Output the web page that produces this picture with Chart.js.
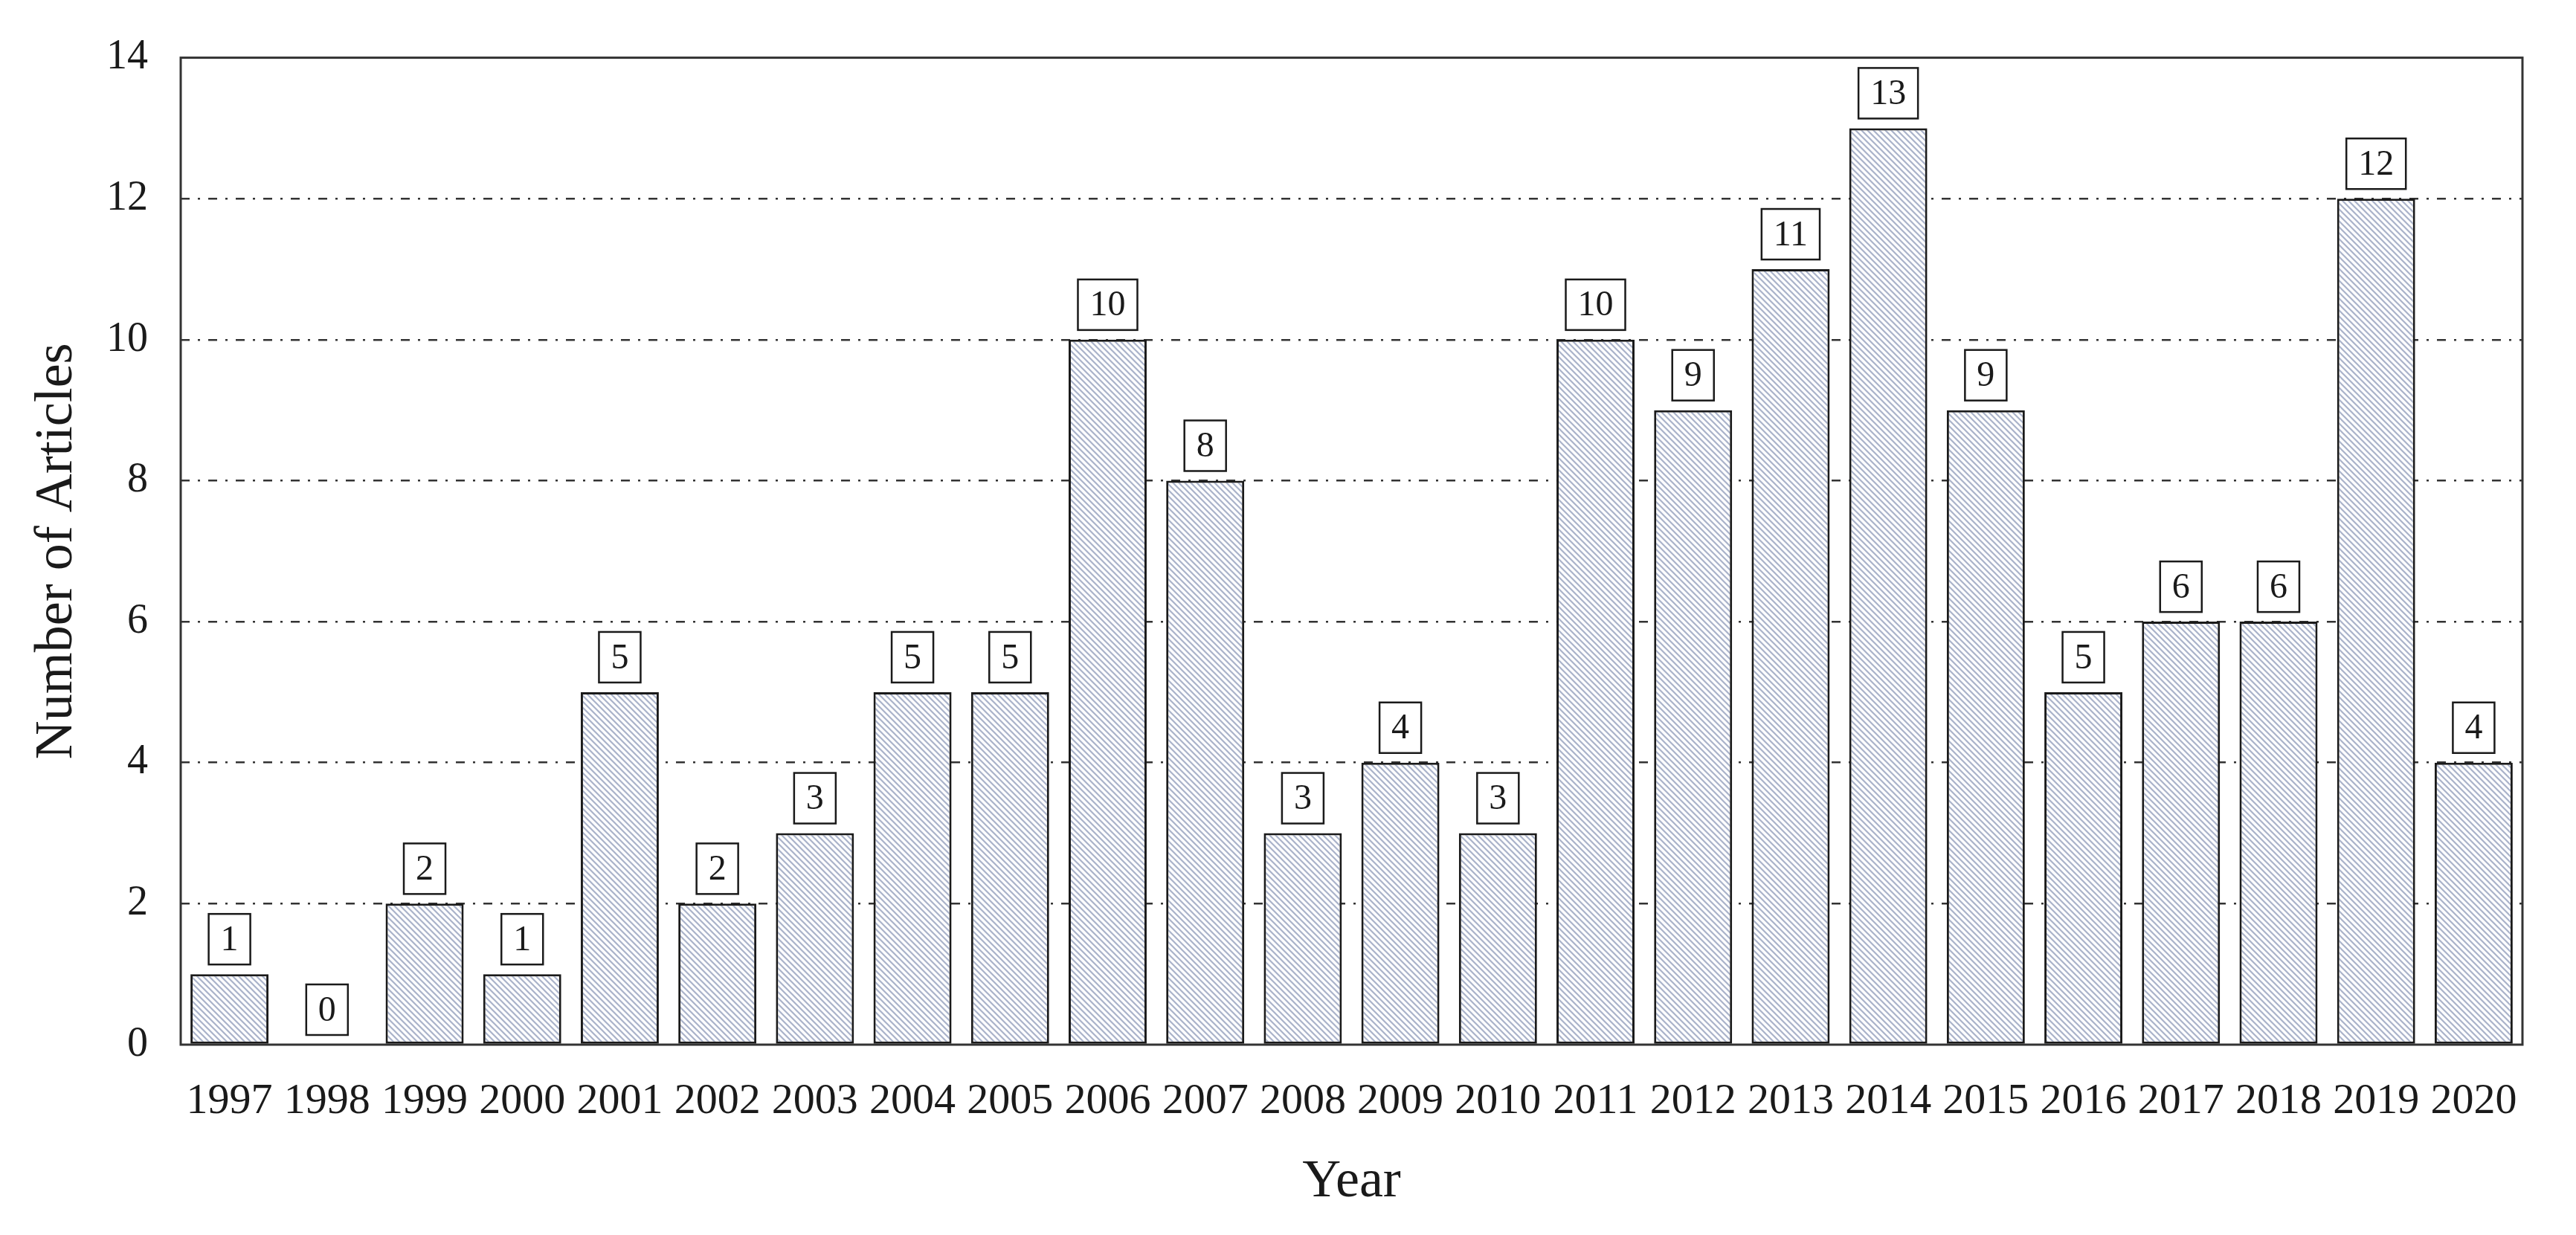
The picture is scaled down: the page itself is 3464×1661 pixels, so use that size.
<!DOCTYPE html>
<html>
<head>
<meta charset="utf-8">
<script src="https://cdn.jsdelivr.net/npm/chart.js@4/dist/chart.umd.min.js"></script>
<style>
  html, body { margin: 0; padding: 0; background: #fff; }
  canvas { display: block; }
</style>
</head>
<body>
<canvas id="barChart" width="3464" height="1661"></canvas>
<script>
// data
var years = ['1997', '1998', '1999', '2000', '2001', '2002', '2003', '2004', '2005', '2006', '2007', '2008',
             '2009', '2010', '2011', '2012', '2013', '2014', '2015', '2016', '2017', '2018', '2019', '2020'];
var articles = [1, 0, 2, 1, 5, 2, 3, 5, 5, 10, 8, 3, 4, 3, 10, 9, 11, 13, 9, 5, 6, 6, 12, 4];
var yMax = 14;
var yStep = 2;

var serif = "'Liberation Serif', 'DejaVu Serif', serif";
var ink = '#1a1a1a';

// diagonal hatch fill for the bars
function hatch() {
    var s = 8;
    var c = document.createElement('canvas');
    c.width = s; c.height = s;
    var g = c.getContext('2d');
    g.fillStyle = '#fdfdfe';
    g.fillRect(0, 0, s, s);
    g.strokeStyle = '#aab3ca';
    g.lineWidth = 2.2;
    g.beginPath();
    g.moveTo(-2, -2); g.lineTo(s + 2, s + 2);
    g.moveTo(-2, s - 2); g.lineTo(2, s + 2);
    g.moveTo(s - 2, -2); g.lineTo(s + 2, 2);
    g.stroke();
    return g.createPattern(c, 'repeat');
}

// boxed value labels above bars
var boxLabels = {
    id: 'boxLabels',
    afterDatasetsDraw: function (chart) {
        var ctx = chart.ctx;
        var meta = chart.getDatasetMeta(0);
        ctx.save();
        ctx.font = '48px ' + serif;
        ctx.textAlign = 'center';
        ctx.textBaseline = 'middle';
        meta.data.forEach(function (bar, i) {
            var txt = String(articles[i]);
            var w = ctx.measureText(txt).width + 32;
            var h = 68;
            var bottom = bar.y - 13;
            ctx.fillStyle = '#fff';
            ctx.fillRect(bar.x - w / 2, bottom - h, w, h);
            ctx.lineWidth = 2.5;
            ctx.strokeStyle = ink;
            ctx.strokeRect(bar.x - w / 2, bottom - h, w, h);
            ctx.fillStyle = ink;
            ctx.fillText(txt, bar.x, bottom - h / 2 + 2);
        });
        ctx.restore();
    }
};

// closed frame around the plot area
var frame = {
    id: 'frame',
    afterDraw: function (chart) {
        var a = chart.chartArea;
        var ctx = chart.ctx;
        ctx.save();
        ctx.lineWidth = 3;
        ctx.strokeStyle = '#333';
        ctx.strokeRect(a.left, a.top, a.right - a.left, a.bottom - a.top);
        ctx.restore();
    }
};

var barChart = new Chart(document.getElementById('barChart'), {
    type: 'bar',
    data: {
        labels: years,
        datasets: [{
            label: 'Number of Articles',
            data: articles,
            backgroundColor: hatch(),
            borderColor: ink,
            borderWidth: 3,
            borderSkipped: false,
            barPercentage: 0.8,
            categoryPercentage: 1.0
        }]
    },
    options: {
        responsive: false,
        animation: false,
        devicePixelRatio: 1,
        layout: { padding: { top: 73, right: 72, left: 0, bottom: 0 } },
        plugins: {
            legend: { display: false },
            tooltip: { enabled: false }
        },
        scales: {
            x: {
                grid: { display: false, drawTicks: false },
                border: { display: false },
                ticks: { color: ink, padding: 42, font: { family: serif, size: 58 } },
                title: {
                    display: true,
                    text: 'Year',
                    color: ink,
                    font: { family: serif, size: 72 },
                    padding: { top: 0, bottom: 28 }
                },
                afterFit: function (scale) { scale.height = 256; }
            },
            y: {
                min: 0,
                max: yMax,
                grid: {
                    drawTicks: false,
                    lineWidth: 2.5,
                    color: function (c) {
                        var v = c.tick ? c.tick.value : 0;
                        return (v === 0 || v === yMax) ? 'rgba(0,0,0,0)' : '#333';
                    }
                },
                border: { display: false, dash: [12, 11, 3, 11] },
                ticks: { stepSize: yStep, color: ink, padding: 44, font: { family: serif, size: 56 } },
                title: {
                    display: true,
                    text: 'Number of Articles',
                    color: ink,
                    font: { family: serif, size: 72 },
                    padding: { top: 34, bottom: 0 }
                },
                afterFit: function (scale) { scale.width = 243; }
            }
        }
    },
    plugins: [boxLabels, frame]
});
</script>
</body>
</html>
